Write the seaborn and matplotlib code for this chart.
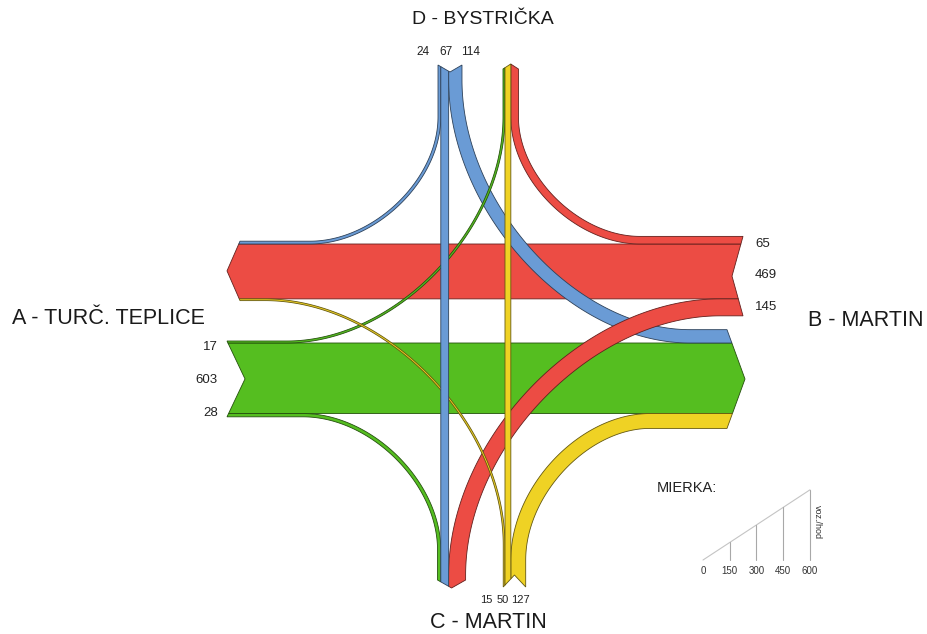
import numpy as np
import matplotlib
matplotlib.use("Agg")
import matplotlib.pyplot as plt
from matplotlib.patches import Polygon
from matplotlib.colors import to_rgb
import seaborn as sns

# ------------------------------------------------------------------ data
arm_codes = ["A", "B", "C", "D"]
arm_titles = ["A - TURČ. TEPLICE", "B - MARTIN", "C - MARTIN", "D - BYSTRIČKA"]
flow_from = ["A", "A", "A", "B", "B", "B", "C", "C", "C", "D", "D", "D"]
flow_to = ["D", "B", "C", "D", "A", "C", "A", "D", "B", "A", "C", "B"]
flow_vol = [17, 603, 28, 65, 469, 145, 15, 50, 127, 24, 67, 114]
scale_ticks = [0, 150, 300, 450, 600]
scale_title = "MIERKA:"
scale_unit = "voz./hod"

# ------------------------------------------------------------------ style
sns.set_theme(style="white")
plt.rcParams["font.family"] = ["Liberation Sans", "DejaVu Sans"]
arm_colors = dict(zip(arm_codes, sns.color_palette(["#55BE20", "#EC4C44", "#EFD224", "#6A9BD5"])))

S = 0.117  # px per veh/h
vol = {(f, t): v for f, t, v in zip(flow_from, flow_to, flow_vol)}


def width(f, t):
    return S * vol[(f, t)]


# ------------------------------------------------------------------ lane layout
XS, XN, YW, YE = 438.0, 503.0, 244.0, 343.0


def stack(start, flows):
    out, pos = {}, start
    for fl in flows:
        out[fl] = (pos, pos + width(*fl))
        pos += width(*fl)
    return out


lanes = {}
lanes[("D", "out")] = stack(XS, [("D", "A"), ("D", "C"), ("D", "B")])
sc = lanes[("D", "out")][("D", "C")][0]
lanes[("C", "in")] = stack(sc - width("A", "C"), [("A", "C"), ("D", "C"), ("B", "C")])
lanes[("D", "in")] = stack(XN, [("A", "D"), ("C", "D"), ("B", "D")])
nc = lanes[("D", "in")][("C", "D")][0]
lanes[("C", "out")] = stack(nc - width("C", "A"), [("C", "A"), ("C", "D"), ("C", "B")])
lanes[("B", "out")] = stack(YW - width("B", "D"), [("B", "D"), ("B", "A"), ("B", "C")])
lanes[("A", "in")] = stack(YW - width("D", "A"), [("D", "A"), ("B", "A"), ("C", "A")])
lanes[("A", "out")] = stack(YE - width("A", "D"), [("A", "D"), ("A", "B"), ("A", "C")])
lanes[("B", "in")] = stack(YE - width("D", "B"), [("D", "B"), ("A", "B"), ("C", "B")])

horizontal = {"A": True, "B": True, "C": False, "D": False}
caps = {("A", "in"): (240, -13), ("A", "out"): (227, 18),
        ("B", "in"): (727, 18), ("B", "out"): (743, -11),
        ("C", "in"): (580, 8), ("C", "out"): (587, -12),
        ("D", "in"): (69, -5), ("D", "out"): (65, 7)}
turn_t = {("D", "A"): (117, 310), ("D", "B"): (80, 690), ("B", "D"): (640, 117),
          ("B", "C"): (720, 575), ("A", "D"): (287, 117), ("A", "C"): (303, 550),
          ("C", "A"): (545, 265), ("C", "B"): (560, 650)}
K = 0.5


def cap_info(key):
    c, d = caps[key]
    ivs = list(lanes[key].values())
    lo = min(a for a, b in ivs)
    hi = max(b for a, b in ivs)
    return c, d, (lo + hi) / 2, (hi - lo) / 2


def cap_long(key, lat):
    c, d, mid, half = cap_info(key)
    return c + d * (1 - abs(lat - mid) / half)


def pt(arm, long, lat):
    return np.array([long, lat], float) if horizontal[arm] else np.array([lat, long], float)


def flow_path(f, t):
    lo, hi = lanes[(f, "out")][(f, t)]
    lat_o = (lo + hi) / 2
    lo, hi = lanes[(t, "in")][(f, t)]
    lat_d = (lo + hi) / 2
    start = pt(f, caps[(f, "out")][0], lat_o)
    end = pt(t, caps[(t, "in")][0], lat_d)
    if (f, t) not in turn_t:
        return np.array([start, end])
    t1, t2 = turn_t[(f, t)]
    P0 = pt(f, t1, lat_o)
    P3 = pt(t, t2, lat_d)
    corner = pt(f, lat_d, lat_o)
    P1 = P0 + K * (corner - P0)
    P2 = P3 + K * (corner - P3)
    u = np.linspace(0, 1, 140)[:, None]
    bez = (1 - u) ** 3 * P0 + 3 * (1 - u) ** 2 * u * P1 + 3 * (1 - u) * u ** 2 * P2 + u ** 3 * P3
    return np.vstack([start, bez, end])


def band_polygon(f, t):
    P = flow_path(f, t)
    w = width(f, t)
    T = np.zeros_like(P)
    T[1:-1] = P[2:] - P[:-2]
    T[0] = P[1] - P[0]
    T[-1] = P[-1] - P[-2]
    T /= np.linalg.norm(T, axis=1)[:, None]
    N = np.column_stack([-T[:, 1], T[:, 0]])
    L = P + N * w / 2
    R = P - N * w / 2
    p_start, p_end = [], []
    for key, idx, arm, store in [((f, "out"), 0, f, p_start), ((t, "in"), -1, t, p_end)]:
        li = 1 if horizontal[arm] else 0
        gi = 1 - li
        for E in (L, R):
            E[idx, gi] = cap_long(key, E[idx, li])
        c, d, mid, half = cap_info(key)
        a, b = sorted([L[idx, li], R[idx, li]])
        if a < mid < b:
            q = np.zeros(2)
            q[li] = mid
            q[gi] = c + d
            store.append(q)
    return np.array([*L, *p_end, *R[::-1], *p_start])


# ------------------------------------------------------------------ figure
fig = plt.figure(figsize=(9.27, 6.34), dpi=100)
ax = fig.add_axes([0, 0, 1, 1])
ax.set_xlim(0, 927)
ax.set_ylim(634, 0)
ax.axis("off")

zorder = {("B", "A"): 1, ("A", "B"): 1, ("D", "B"): 2, ("D", "A"): 2,
          ("B", "D"): 3, ("B", "C"): 3, ("A", "C"): 3, ("C", "B"): 3,
          ("A", "D"): 4, ("C", "A"): 4, ("D", "C"): 5, ("C", "D"): 5}

for f, t in zip(flow_from, flow_to):
    col = arm_colors[f]
    edge = tuple(np.array(to_rgb(col)) * 0.42)
    ax.add_patch(Polygon(band_polygon(f, t), closed=True, facecolor=col, edgecolor=edge,
                         lw=0.6, joinstyle="miter", zorder=zorder[(f, t)]))

# volume labels at origins
txt_col = "#222222"
d_flows = list(lanes[("D", "out")].keys())
for fl, x in zip(d_flows, [423.5, 446.5, 471]):
    ax.text(x, 52, str(vol[fl]), ha="center", va="center", fontsize=8.5, color=txt_col)
c_flows = list(lanes[("C", "out")].keys())
for fl, x in zip(c_flows, [486, 502.5, 520]):
    ax.text(x, 600, str(vol[fl]), ha="center", va="center", fontsize=8, color=txt_col)
b_flows = list(lanes[("B", "out")].keys())
for fl, y in zip(b_flows, [244, 275, 307]):
    ax.text(755, y, str(vol[fl]), ha="left", va="center", fontsize=9.5, color=txt_col)
a_flows = list(lanes[("A", "out")].keys())
for fl, y in zip(a_flows, [347, 380, 413]):
    ax.text(218, y, str(vol[fl]), ha="right", va="center", fontsize=9.5, color=txt_col)

# arm titles
title_pos = {"A": (12, 318, "left", 15.5), "B": (808, 320, "left", 15.5),
             "C": (488, 622, "center", 15.5), "D": (483, 20, "center", 14)}
for code, title in zip(arm_codes, arm_titles):
    x, y, ha, fs = title_pos[code]
    ax.text(x, y, title, ha=ha, va="center", fontsize=fs, color="#1a1a1a")

# scale legend
sx0, sdx, sy0 = 703.0, 107.0 / 600.0, 560.0
sx = [sx0 + v * sdx for v in scale_ticks]
sy = [sy0 - v * S for v in scale_ticks]
sns.lineplot(x=sx, y=sy, ax=ax, color="#c4c4c4", lw=0.8, zorder=6)
for v, x, y in zip(scale_ticks, sx, sy):
    if v > 0:
        ax.plot([x, x], [sy0, y], color="#a8a8a8", lw=0.8, zorder=6)
    ax.text(x, sy0 + 11, str(v), ha="center", va="center", fontsize=7, color="#333333")
ax.text(657, 488, scale_title, ha="left", va="center", fontsize=10.5, color="#222222")
ax.text(817.5, 522, scale_unit, ha="center", va="center", fontsize=6.5, rotation=270,
        color="#333333")

fig.savefig("out.png", dpi=100, facecolor="white")
